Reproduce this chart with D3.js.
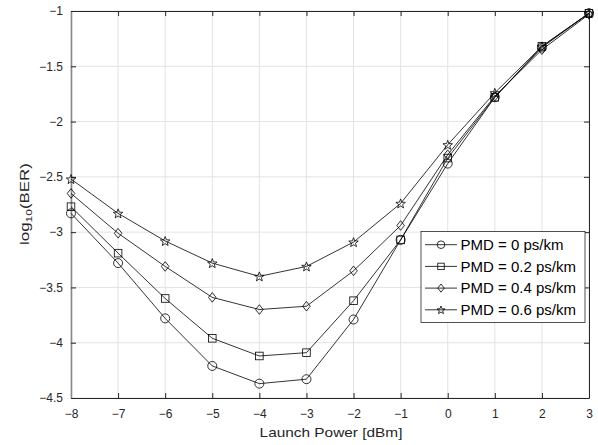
<!DOCTYPE html>
<html>
<head>
<meta charset="utf-8">
<script src="https://cdn.jsdelivr.net/npm/d3@7"></script>
<style>
  body { margin: 0; background: #fff; }
  text { font-family: "Liberation Sans", Arial, sans-serif; }
</style>
</head>
<body>
<div id="chart"></div>
<script>
// data
var power = [-8, -7, -6, -5, -4, -3, -2, -1, 0, 1, 2, 3];
var pmd0 = [-2.83, -3.28, -3.78, -4.21, -4.37, -4.33, -3.79, -3.07, -2.38, -1.78, -1.33, -1.02];
var pmd02 = [-2.77, -3.19, -3.60, -3.96, -4.12, -4.09, -3.62, -3.07, -2.33, -1.78, -1.32, -1.02];
var pmd04 = [-2.65, -3.01, -3.31, -3.59, -3.70, -3.67, -3.35, -2.94, -2.30, -1.77, -1.35, -1.03];
var pmd06 = [-2.52, -2.83, -3.08, -3.28, -3.40, -3.31, -3.09, -2.74, -2.21, -1.74, -1.32, -1.02];
var seriesNames = ["PMD = 0 ps/km", "PMD = 0.2 ps/km", "PMD = 0.4 ps/km", "PMD = 0.6 ps/km"];
var markers = ["circle", "square", "diamond", "star"];
var xTicks = [-8, -7, -6, -5, -4, -3, -2, -1, 0, 1, 2, 3];
var yTicks = [-4.5, -4, -3.5, -3, -2.5, -2, -1.5, -1];

var allSeries = [pmd0, pmd02, pmd04, pmd06];

// svg container
var svgWidth = 598;
var svgHeight = 445;
var margin = { top: 11, right: 9, bottom: 47, left: 71 };
var width = svgWidth - margin.left - margin.right;
var height = svgHeight - margin.top - margin.bottom;

var svg = d3.select("#chart")
  .append("svg")
  .attr("width", svgWidth)
  .attr("height", svgHeight);

var chartGroup = svg.append("g")
  .attr("transform", `translate(${margin.left}, ${margin.top})`);

var x = d3.scaleLinear().domain([-8, 3]).range([0, width]);
var y = d3.scaleLinear().domain([-4.5, -1]).range([height, 0]);

var axisColor = "#262626";

// grid
chartGroup.append("g")
  .selectAll("line")
  .data(xTicks)
  .enter()
  .append("line")
  .attr("x1", d => x(d)).attr("x2", d => x(d))
  .attr("y1", 0).attr("y2", height)
  .attr("stroke", "#e3e3e3")
  .attr("stroke-width", 1);
chartGroup.append("g")
  .selectAll("line")
  .data(yTicks)
  .enter()
  .append("line")
  .attr("x1", 0).attr("x2", width)
  .attr("y1", d => y(d)).attr("y2", d => y(d))
  .attr("stroke", "#e3e3e3")
  .attr("stroke-width", 1);

// axes, ticks pointing inward
function styleAxis(g) {
  g.selectAll("path").attr("stroke", axisColor);
  g.selectAll("line").attr("stroke", axisColor);
  g.selectAll("text").attr("fill", axisColor).attr("font-size", "12px");
}
chartGroup.append("g")
  .attr("transform", `translate(0, ${height})`)
  .call(d3.axisBottom(x).tickValues(xTicks).tickSize(-5).tickSizeOuter(0).tickPadding(11).tickFormat(d3.format("d")))
  .call(styleAxis);
chartGroup.append("g")
  .call(d3.axisTop(x).tickValues(xTicks).tickSize(-5).tickSizeOuter(0).tickFormat(""))
  .call(styleAxis);
var yAxisG = chartGroup.append("g")
  .call(d3.axisLeft(y).tickValues(yTicks).tickSize(-5).tickSizeOuter(0).tickPadding(8).tickFormat(d => d3.format("")(d)))
  .call(styleAxis);
yAxisG.select(".domain").attr("stroke", "#8a8a8a").attr("stroke-width", 1.6);
chartGroup.append("g")
  .attr("transform", `translate(${width}, 0)`)
  .call(d3.axisRight(y).tickValues(yTicks).tickSize(-5).tickSizeOuter(0).tickFormat(""))
  .call(styleAxis);

// marker shapes
function drawMarker(g, type, cx, cy, s) {
  s = s || 1;
  if (type === "circle") {
    g.append("circle").attr("cx", cx).attr("cy", cy).attr("r", 4.5 * s);
  } else if (type === "square") {
    g.append("rect").attr("x", cx - 3.8 * s).attr("y", cy - 3.8 * s).attr("width", 7.6 * s).attr("height", 7.6 * s);
  } else if (type === "diamond") {
    g.append("path").attr("d", `M${cx},${cy - 4.8 * s}L${cx + 3.8 * s},${cy}L${cx},${cy + 4.8 * s}L${cx - 3.8 * s},${cy}Z`);
  } else {
    var pts = [];
    for (var i = 0; i < 10; i++) {
      var r = (i % 2 === 0 ? 5 : 2.1) * s;
      var a = -Math.PI / 2 + i * Math.PI / 5;
      pts.push([cx + r * Math.cos(a), cy + 0.5 * s + r * Math.sin(a)]);
    }
    g.append("path").attr("d", "M" + pts.map(p => p.join(",")).join("L") + "Z");
  }
}

var line = d3.line()
  .x((d, i) => x(power[i]))
  .y(d => y(d));

allSeries.forEach(function(s, k) {
  chartGroup.append("path")
    .datum(s)
    .attr("d", line)
    .attr("fill", "none")
    .attr("stroke", "#000")
    .attr("stroke-width", 0.8);
  var mg = chartGroup.append("g")
    .attr("fill", "none")
    .attr("stroke", "#000")
    .attr("stroke-width", 0.8);
  s.forEach(function(v, i) {
    drawMarker(mg, markers[k], x(power[i]), y(v));
  });
});

// stretch a text node to a given length (the reference font runs wide)
function stretchTo(node, len) {
  var w = node.getComputedTextLength();
  return len / w;
}

// axis labels
var xl = svg.append("text")
  .attr("text-anchor", "middle")
  .attr("font-size", "12px")
  .attr("fill", axisColor)
  .text("Launch Power [dBm]");
var kx = stretchTo(xl.node(), 143);
xl.attr("transform", `translate(331, 437) scale(${kx}, 1)`);

var yl = svg.append("text")
  .attr("text-anchor", "middle")
  .attr("font-size", "12px")
  .attr("fill", axisColor);
yl.append("tspan").text("log");
yl.append("tspan").attr("font-size", "8.5px").attr("dy", 3).text("10");
yl.append("tspan").attr("dy", -3).text("(BER)");
var ky = stretchTo(yl.node(), 82);
yl.attr("transform", `translate(29, 204) rotate(-90) scale(${ky}, 1)`);

// legend
var legend = svg.append("g").attr("transform", "translate(421, 231.5)");
legend.append("rect")
  .attr("width", 164).attr("height", 91)
  .attr("fill", "#fff")
  .attr("stroke", axisColor)
  .attr("stroke-width", 0.8);
seriesNames.forEach(function(name, k) {
  var ly = 13.2 + k * 21.7;
  var lg = legend.append("g").attr("fill", "none").attr("stroke", "#000").attr("stroke-width", 0.8);
  lg.append("line").attr("x1", 4).attr("x2", 36).attr("y1", ly).attr("y2", ly);
  drawMarker(lg, markers[k], 20, ly, 0.85);
  legend.append("text")
    .attr("x", 39.5)
    .attr("y", ly + 5.3)
    .attr("font-size", "15px")
    .attr("fill", "#000")
    .text(name);
});
</script>
</body>
</html>
